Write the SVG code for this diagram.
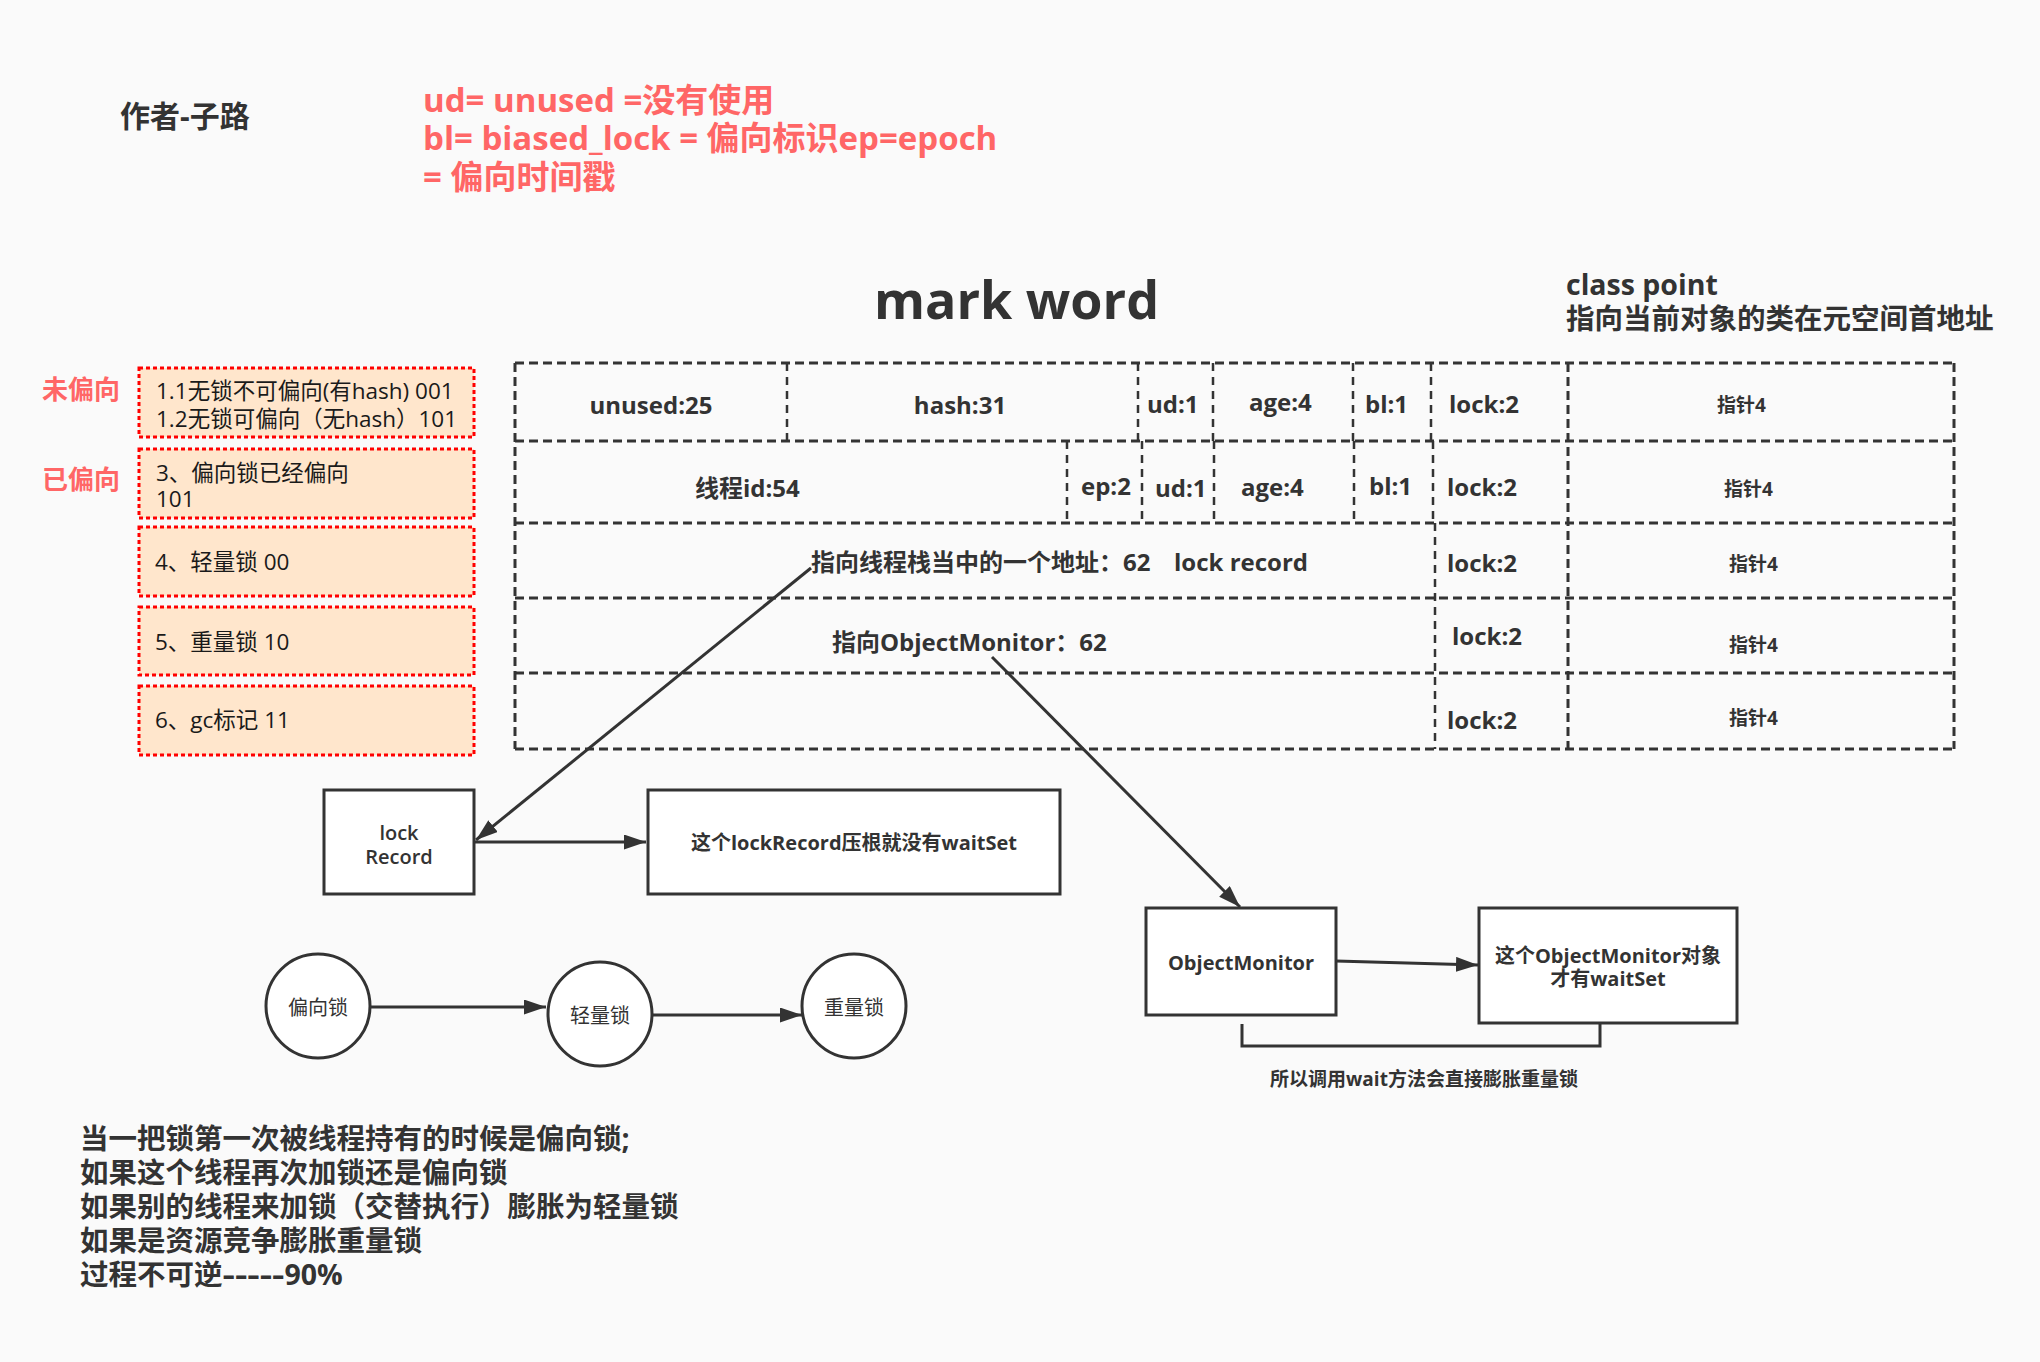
<svg xmlns="http://www.w3.org/2000/svg" width="2040" height="1362" viewBox="0 0 2040 1362">
<defs>
<style>
text{font-family:"Open Sans","Noto Sans CJK SC",sans-serif;fill:#333}
.b{font-weight:bold}
.red{fill:#ff6666;font-weight:bold}
.cell{font-size:24px;font-weight:bold}
.ptr{font-size:19px;font-weight:bold}
.st{font-size:22.5px;fill:#1a1a1a}
.hl{stroke:#333;stroke-width:3;stroke-dasharray:9 5;fill:none}
.vl{stroke:#333;stroke-width:2.5;stroke-dasharray:8 6;fill:none}
.rbox{fill:#ffe6cc;stroke:#ff0000;stroke-width:3;stroke-dasharray:4 3}
.node{fill:#fff;stroke:#333;stroke-width:3}
.edge{stroke:#333;stroke-width:3;fill:none}
</style>
<marker id="arr" markerUnits="userSpaceOnUse" markerWidth="24" markerHeight="16" refX="22" refY="7.5" orient="auto">
<path d="M0,0 L22,7.5 L0,15 z" fill="#333"/>
</marker>
</defs>
<rect width="2040" height="1362" fill="#fafafa"/>

<g id="author"><text class="b" x="120" y="127" font-size="30">作者-子路</text></g>
<g id="legend">
<text class="red" x="423" y="112" font-size="33">ud= unused =没有使用</text>
<text class="red" x="423" y="150" font-size="33">bl= biased_lock = 偏向标识ep=epoch</text>
<text class="red" x="423" y="189" font-size="33">= 偏向时间戳</text>
</g>
<g id="title"><text class="b" x="874" y="319" font-size="52">mark word</text></g>
<g id="class-point">
<text class="b" x="1566" y="295" font-size="28.5">class point</text>
<text class="b" x="1566" y="329" font-size="28.5">指向当前对象的类在元空间首地址</text>
</g>

<g id="state-labels">
<text class="red" x="42" y="399" font-size="26">未偏向</text>
<text class="red" x="42" y="489" font-size="26">已偏向</text>
</g>
<g id="state-1">
<rect class="rbox" x="139" y="368" width="335" height="69"/>
<text class="st" x="156" y="399">1.1无锁不可偏向(有hash) 001</text>
<text class="st" x="156" y="427">1.2无锁可偏向（无hash）101</text>
</g>
<g id="state-3">
<rect class="rbox" x="139" y="449" width="335" height="69"/>
<text class="st" x="156" y="481">3、偏向锁已经偏向</text>
<text class="st" x="156" y="507">101</text>
</g>
<g id="state-4">
<rect class="rbox" x="139" y="527" width="335" height="69"/>
<text class="st" x="155" y="570">4、轻量锁 00</text>
</g>
<g id="state-5">
<rect class="rbox" x="139" y="607" width="335" height="68"/>
<text class="st" x="155" y="650">5、重量锁 10</text>
</g>
<g id="state-6">
<rect class="rbox" x="139" y="686" width="335" height="69"/>
<text class="st" x="155" y="728">6、gc标记 11</text>
</g>

<g id="mark-word-table">
<path class="hl" d="M515,363 H1954 M515,441 H1954 M515,523 H1954 M515,598 H1954 M515,673 H1954 M515,749 H1954"/>
<path class="hl" d="M515,363 V749 M1954,363 V749 M1568,363 V749"/>
<path class="vl" d="M787,363 V441 M1138,363 V441 M1213,363 V441 M1353,363 V441 M1431,363 V441"/>
<path class="vl" d="M1067,441 V523 M1142,441 V523 M1214,441 V523 M1354,441 V523 M1433,441 V523"/>
<path class="vl" d="M1435,523 V749"/>
<g id="row-1">
<text class="cell" x="651" y="414" text-anchor="middle">unused:25</text>
<text class="cell" x="960" y="414" text-anchor="middle">hash:31</text>
<text class="cell" x="1147" y="413">ud:1</text>
<text class="cell" x="1249" y="411">age:4</text>
<text class="cell" x="1365" y="413">bl:1</text>
<text class="cell" x="1449" y="413">lock:2</text>
<text class="ptr" x="1717" y="412">指针4</text>
</g>
<g id="row-2">
<text class="cell" x="695" y="497">线程id:54</text>
<text class="cell" x="1081" y="495">ep:2</text>
<text class="cell" x="1155" y="497">ud:1</text>
<text class="cell" x="1241" y="496">age:4</text>
<text class="cell" x="1369" y="495">bl:1</text>
<text class="cell" x="1447" y="496">lock:2</text>
<text class="ptr" x="1724" y="496">指针4</text>
</g>
<g id="row-3">
<text class="cell" x="811" y="571">指向线程栈当中的一个地址：62<tspan x="1174">lock record</tspan></text>
<text class="cell" x="1447" y="572">lock:2</text>
<text class="ptr" x="1729" y="571">指针4</text>
</g>
<g id="row-4">
<text class="cell" x="832" y="651">指向ObjectMonitor：62</text>
<text class="cell" x="1452" y="645">lock:2</text>
<text class="ptr" x="1729" y="652">指针4</text>
</g>
<g id="row-5">
<text class="cell" x="1447" y="729">lock:2</text>
<text class="ptr" x="1729" y="725">指针4</text>
</g>
</g>

<g id="lock-record">
<rect class="node" x="324" y="790" width="150" height="104"/>
<text x="399" y="840" font-size="20" font-weight="600" text-anchor="middle">lock</text>
<text x="399" y="864" font-size="20" font-weight="600" text-anchor="middle">Record</text>
</g>
<g id="no-waitset">
<rect class="node" x="648" y="790" width="412" height="104"/>
<text class="b" x="854" y="850" font-size="20" text-anchor="middle">这个lockRecord压根就没有waitSet</text>
</g>
<g id="object-monitor">
<rect class="node" x="1146" y="908" width="190" height="107"/>
<text class="b" x="1241" y="970" font-size="20" text-anchor="middle">ObjectMonitor</text>
</g>
<g id="has-waitset">
<rect class="node" x="1479" y="908" width="258" height="115"/>
<text class="b" x="1608" y="963" font-size="20" text-anchor="middle">这个ObjectMonitor对象</text>
<text class="b" x="1608" y="986" font-size="20" text-anchor="middle">才有waitSet</text>
</g>
<g id="wait-note">
<text class="b" x="1424" y="1086" font-size="19" text-anchor="middle">所以调用wait方法会直接膨胀重量锁</text>
</g>

<g id="biased">
<ellipse class="node" cx="318" cy="1006" rx="52" ry="52"/>
<text x="318" y="1015" font-size="20" text-anchor="middle">偏向锁</text>
</g>
<g id="lightweight">
<ellipse class="node" cx="600" cy="1014" rx="52" ry="52"/>
<text x="600" y="1023" font-size="20" text-anchor="middle">轻量锁</text>
</g>
<g id="heavyweight">
<ellipse class="node" cx="854" cy="1006" rx="52" ry="52"/>
<text x="854" y="1015" font-size="20" text-anchor="middle">重量锁</text>
</g>

<g id="notes">
<text class="b" x="80" y="1149" font-size="28.5">当一把锁第一次被线程持有的时候是偏向锁;</text>
<text class="b" x="80" y="1183" font-size="28.5">如果这个线程再次加锁还是偏向锁</text>
<text class="b" x="80" y="1217" font-size="28.5">如果别的线程来加锁（交替执行）膨胀为轻量锁</text>
<text class="b" x="80" y="1251" font-size="28.5">如果是资源竞争膨胀重量锁</text>
<text class="b" x="80" y="1285" font-size="28.5">过程不可逆<tspan textLength="62" lengthAdjust="spacingAndGlyphs">-----</tspan>90%</text>
</g>

<g id="connectors">
<path class="edge" d="M811,568 L476,840" marker-end="url(#arr)"/>
<path class="edge" d="M474,842 L646,842" marker-end="url(#arr)"/>
<path class="edge" d="M992,657 L1240,907" marker-end="url(#arr)"/>
<path class="edge" d="M1336,961 L1478,965" marker-end="url(#arr)"/>
<path class="edge" d="M1242,1024 V1046 H1600 V1024"/>
<path class="edge" d="M370,1007 L546,1007" marker-end="url(#arr)"/>
<path class="edge" d="M652,1015 L802,1015" marker-end="url(#arr)"/>
</g>
</svg>
